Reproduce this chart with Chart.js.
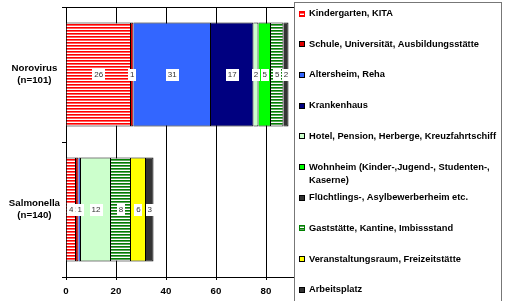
<!DOCTYPE html>
<html><head><meta charset="utf-8">
<script src="https://cdn.jsdelivr.net/npm/chart.js@4/dist/chart.umd.min.js"></script>
<style>html,body{margin:0;padding:0;background:#fff}#wrap{width:506px;height:301px;position:relative}</style>
</head><body><div id="wrap"><canvas id="c"></canvas></div>
<script>
// ---- data ----
const categories = [['Norovirus', '(n=101)'], ['Salmonella', '(n=140)']];
const seriesNames = [
  'Kindergarten, KITA',
  'Schule, Universität, Ausbildungsstätte',
  'Altersheim, Reha',
  'Krankenhaus',
  'Hotel, Pension, Herberge, Kreuzfahrtschiff',
  'Wohnheim (Kinder-,Jugend-, Studenten-,\nKaserne)',
  'Flüchtlings-, Asylbewerberheim etc.',
  'Gaststätte, Kantine, Imbissstand',
  'Veranstaltungsraum, Freizeitstätte',
  'Arbeitsplatz'
];
const kindergarten  = [26, 4];
const schule        = [1, 1];
const altersheim    = [31, 1];
const krankenhaus   = [17, 0];
const hotel         = [2, 12];
const wohnheim      = [5, 0];
const fluechtlinge  = [0, 0];
const gaststaette   = [5, 8];
const veranstaltung = [0, 6];
const arbeitsplatz  = [2, 3];
const xTickValues   = [0, 20, 40, 60, 80, 100];

// ---- styles ----
function stripes(color, mid) {
  const c = document.createElement('canvas');
  c.width = 4; c.height = 3;
  const g = c.getContext('2d');
  g.fillStyle = '#fff'; g.fillRect(0, 0, 4, 3);
  g.fillStyle = color; g.fillRect(0, 0, 4, 1);
  g.fillStyle = mid; g.fillRect(0, 1, 4, 1);
  return g.createPattern(c, 'repeat');
}
const baseColors = ['#ff0000', '#e00000', '#3366ff', '#000080', '#ccffcc', '#00ff00', '#333333', '#008000', '#ffff00', '#333333'];
const midColors  = ['#ff6060', null, null, null, null, null, null, '#60a060', null, null];
const patterned  = [true, false, false, false, false, false, false, true, false, false];
const fills = baseColors.map((c, i) => patterned[i] ? stripes(c, midColors[i]) : c);
const values = [kindergarten, schule, altersheim, krankenhaus, hotel, wohnheim, fluechtlinge, gaststaette, veranstaltung, arbeitsplatz];

const datasets = seriesNames.map((name, i) => ({
  label: name,
  data: values[i],
  backgroundColor: fills[i],
  borderColor: '#000',
  borderWidth: 1,
  categoryPercentage: 1,
  barPercentage: 0.77
}));

const FONT = '"Liberation Sans", Arial, sans-serif';

const framePlugin = {
  id: 'frame',
  beforeDatasetsDraw(chart) {
    const { ctx, chartArea: a } = chart;
    ctx.save();
    ctx.strokeStyle = '#000'; ctx.lineWidth = 1;
    ctx.beginPath();
    ctx.moveTo(a.left, Math.round(a.top) + 0.5);
    ctx.lineTo(a.right, Math.round(a.top) + 0.5);
    ctx.stroke();
    ctx.restore();
  }
};

const labelPlugin = {
  id: 'segLabels',
  afterDatasetsDraw(chart) {
    const ctx = chart.ctx;
    ctx.save();
    ctx.font = '8px ' + FONT;
    ctx.textAlign = 'center';
    ctx.textBaseline = 'middle';
    chart.data.datasets.forEach((ds, i) => {
      const meta = chart.getDatasetMeta(i);
      meta.data.forEach((el, j) => {
        const v = ds.data[j];
        if (!v) return;
        const cx = (el.x + el.base) / 2, cy = el.y;
        const t = String(v);
        const w = ctx.measureText(t).width + 4;
        ctx.fillStyle = '#fff';
        ctx.fillRect(Math.round(cx - w / 2), Math.round(cy - 6), Math.round(w), 12);
        ctx.fillStyle = '#333';
        ctx.fillText(t, cx, cy + 0.5);
      });
    });
    ctx.restore();
  }
};

const legendPlugin = {
  id: 'boxLegend',
  afterDraw(chart) {
    const ctx = chart.ctx;
    ctx.save();
    ctx.fillStyle = '#fff';
    ctx.fillRect(294.5, 2.5, 207, 310);
    ctx.strokeStyle = '#777'; ctx.lineWidth = 1;
    ctx.strokeRect(294.5, 2.5, 207, 310);
    ctx.font = 'bold 9.3px ' + FONT;
    ctx.textBaseline = 'middle';
    ctx.textAlign = 'left';
    chart.data.datasets.forEach((ds, i) => {
      const y = 13.5 + i * 30.7;
      const my = Math.round(y - 3);
      ctx.fillStyle = ds.backgroundColor;
      ctx.fillRect(299, my, 6, 6);
      ctx.strokeStyle = patterned[i] ? baseColors[i] : '#000';
      ctx.strokeRect(299.5, my + 0.5, 5, 5);
      ctx.fillStyle = '#000';
      ds.label.split('\n').forEach((line, k) => ctx.fillText(line, 309, y + k * 13));
    });
    ctx.restore();
  }
};

new Chart(document.getElementById('c'), {
  type: 'bar',
  data: { labels: categories, datasets },
  plugins: [framePlugin, labelPlugin, legendPlugin],
  options: {
    indexAxis: 'y',
    responsive: true,
    maintainAspectRatio: false,
    devicePixelRatio: 1,
    animation: false,
    layout: { padding: { top: 7, right: 190, bottom: 0, left: 0 } },
    plugins: { legend: { display: false }, tooltip: { enabled: false } },
    scales: {
      x: {
        stacked: true,
        min: 0, max: 100,
        afterBuildTicks: s => { s.ticks = xTickValues.map(v => ({ value: v })); },
        afterFit: s => { s.height = 24; },
        grid: { color: '#000', lineWidth: 1, tickLength: 3 },
        border: { display: true, color: '#000' },
        ticks: { color: '#000', font: { family: FONT, size: 9.7, weight: 'bold' }, padding: 6, maxRotation: 0 }
      },
      y: {
        stacked: true,
        afterFit: s => { s.width = 66; s.paddingTop = 0; s.paddingBottom = 0; },
        grid: { display: true, drawOnChartArea: false, drawTicks: true, tickLength: 4, color: '#000' },
        border: { display: true, color: '#000' },
        ticks: { color: '#000', font: { family: FONT, size: 9.7, weight: 'bold', lineHeight: 1.25 }, crossAlign: 'center', padding: 2 }
      }
    }
  }
});
</script></body></html>
